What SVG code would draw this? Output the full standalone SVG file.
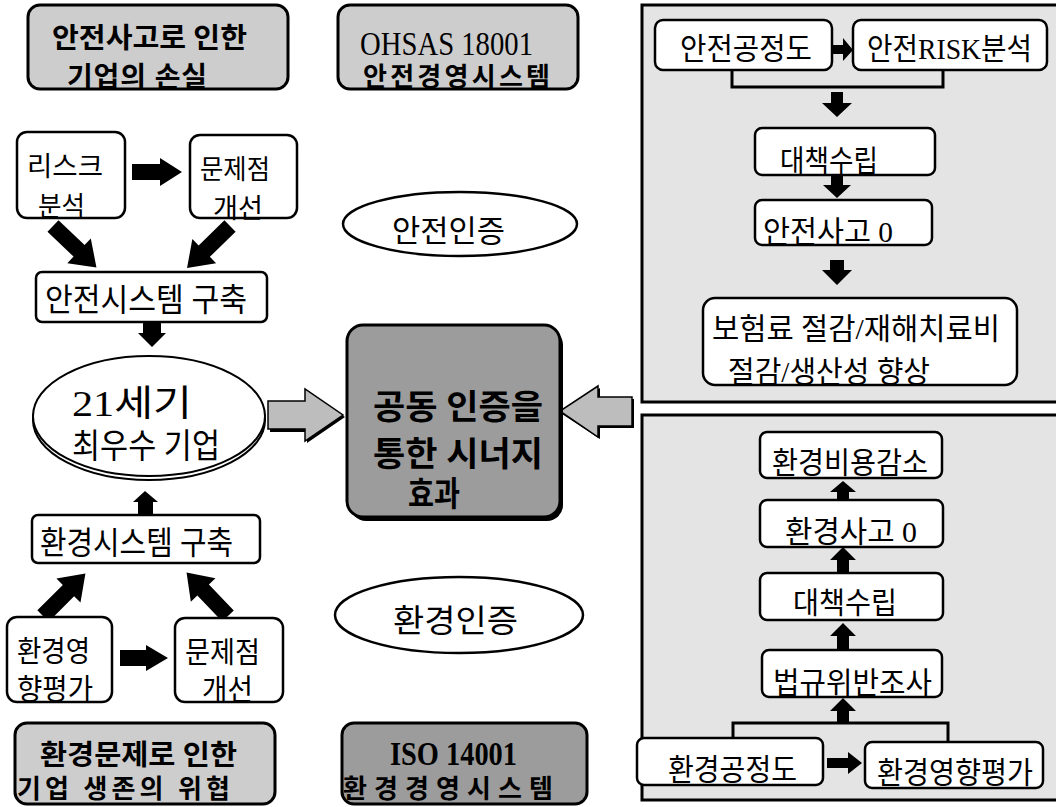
<svg xmlns="http://www.w3.org/2000/svg" width="1056" height="807" viewBox="0 0 1056 807">
<style>
text{font-family:"Liberation Serif","Noto Sans CJK KR",serif;fill:#000;dominant-baseline:central;text-anchor:start}
.b{font-weight:bold}
.box{fill:#fff;stroke:#000;stroke-width:2.5}
.gbox{fill:#cdcdcd;stroke:#000;stroke-width:3}
.dbox{fill:#9c9c9c;stroke:#000;stroke-width:3}
.panel{fill:#e4e4e4;stroke:#000;stroke-width:3}
.arr{fill:#000}
.harr{fill:#bdbdbd;stroke:#000;stroke-width:1.5}
.ln{fill:none;stroke:#000;stroke-width:3}
</style>
<defs>
<path id="diag" d="M0,-8 L36,-8 L36,-17 L60,0 L36,17 L36,8 L0,8 Z"/>
</defs>

<g id="panel-safety">
<rect class="panel" x="642" y="5" width="420" height="397"/>
</g>
<g id="panel-env">
<rect class="panel" x="642" y="415" width="420" height="385"/>
</g>

<g id="connectors">
<path class="arr" d="M132,164 L160,164 L160,158 L182,172 L160,186 L160,180 L132,180 Z"/>
<use href="#diag" class="arr" transform="translate(53,226) rotate(43.6)"/>
<use href="#diag" class="arr" transform="translate(230,226) rotate(135.7)"/>
<path class="arr" d="M143,322 L161,322 L161,333 L166,333 L152,347 L138,333 L143,333 Z"/>
<path class="arr" d="M138,515 L153,515 L153,502 L158,502 L145,491 L133,502 L138,502 Z"/>
<use href="#diag" class="arr" transform="translate(43,616) rotate(-45)"/>
<use href="#diag" class="arr" transform="translate(228,616) rotate(-133.7)"/>
<path class="arr" d="M120,650 L146,650 L146,645 L168,658 L146,671 L146,666 L120,666 Z"/>
<path d="M270,404 L307,404 L307,392 L345,417 L307,443 L307,432 L270,432 Z" fill="#000"/>
<path class="harr" d="M268,401 L305,401 L305,389 L343,415 L305,441 L305,429 L268,429 Z"/>
<path d="M634,399 L600,399 L600,388 L562,414 L600,439 L600,428 L634,428 Z" fill="#000"/>
<path class="harr" d="M632,397 L598,397 L598,386 L560,411 L598,437 L598,426 L632,426 Z"/>
<path class="arr" d="M831,45 L843,45 L843,38 L853,50 L843,61 L843,54 L831,54 Z"/>
<path class="ln" d="M732,70 V87 H943 V70"/>
<path class="arr" d="M831,92 L843,92 L843,103 L852,103 L837,117 L822,103 L831,103 Z"/>
<path class="arr" d="M831,175 L843,175 L843,185 L851,185 L837,198 L823,185 L831,185 Z"/>
<path class="arr" d="M830,260 L844,260 L844,270 L852,270 L837,285 L822,270 L830,270 Z"/>
<path class="arr" d="M837,500 L849,500 L849,492 L856,492 L843,481 L830,492 L837,492 Z"/>
<path class="arr" d="M837,573 L849,573 L849,560 L856,560 L843,547 L830,560 L837,560 Z"/>
<path class="arr" d="M837,650 L849,650 L849,636 L856,636 L843,623 L830,636 L837,636 Z"/>
<path class="arr" d="M837,723 L849,723 L849,711 L856,711 L843,698 L830,711 L837,711 Z"/>
<path class="ln" d="M733,738 V723 H948 V742"/>
<path class="arr" d="M827,758 L848,758 L848,752 L862,763 L848,774 L848,768 L827,768 Z"/>
</g>

<g id="loss-safety">
<rect class="gbox" x="28" y="5" width="260" height="84" rx="12"/>
<text class="b" x="52" y="38" font-size="28" textLength="195" lengthAdjust="spacingAndGlyphs">안전사고로 인한</text>
<text class="b" x="67" y="77" font-size="28" textLength="140" lengthAdjust="spacing">기업의 손실</text>
</g>
<g id="ohsas">
<rect class="gbox" x="338" y="5" width="240" height="84" rx="12"/>
<text x="360" y="43" font-size="34" textLength="173" lengthAdjust="spacingAndGlyphs">OHSAS 18001</text>
<text class="b" x="363" y="77" font-size="26" textLength="187" lengthAdjust="spacing">안전경영시스템</text>
</g>
<g id="risk">
<rect class="box" x="17" y="132" width="108" height="86" rx="10"/>
<text x="27" y="167" font-size="27" textLength="76" lengthAdjust="spacingAndGlyphs">리스크</text>
<text x="38" y="207" font-size="27" textLength="47" lengthAdjust="spacingAndGlyphs">분석</text>
</g>
<g id="improve-safety">
<rect class="box" x="190" y="135" width="107" height="83" rx="10"/>
<text x="200" y="170" font-size="27" textLength="70" lengthAdjust="spacingAndGlyphs">문제점</text>
<text x="213" y="209" font-size="27" textLength="50" lengthAdjust="spacingAndGlyphs">개선</text>
</g>
<g id="safety-system">
<rect class="box" x="36" y="272" width="231" height="50" rx="6"/>
<text x="45" y="300" font-size="32" textLength="202" lengthAdjust="spacingAndGlyphs">안전시스템 구축</text>
</g>
<g id="company">
<ellipse cx="149" cy="420" rx="116" ry="60" fill="#fff" stroke="#000" stroke-width="2"/>
<ellipse cx="149" cy="416" rx="116" ry="60" fill="#fff" stroke="#000" stroke-width="2"/>
<text x="72" y="404" font-size="36" textLength="120" lengthAdjust="spacingAndGlyphs">21세기</text>
<text x="72" y="446" font-size="34" textLength="148" lengthAdjust="spacingAndGlyphs">최우수 기업</text>
</g>
<g id="env-system">
<rect class="box" x="32" y="515" width="228" height="48" rx="6"/>
<text x="40" y="543" font-size="32" textLength="193" lengthAdjust="spacingAndGlyphs">환경시스템 구축</text>
</g>
<g id="env-assess">
<rect class="box" x="7" y="617" width="105" height="85" rx="10"/>
<text x="17" y="652" font-size="29" textLength="73" lengthAdjust="spacingAndGlyphs">환경영</text>
<text x="17" y="690" font-size="29" textLength="76" lengthAdjust="spacingAndGlyphs">향평가</text>
</g>
<g id="improve-env">
<rect class="box" x="175" y="618" width="108" height="84" rx="10"/>
<text x="185" y="653" font-size="29" textLength="75" lengthAdjust="spacingAndGlyphs">문제점</text>
<text x="202" y="690" font-size="29" textLength="51" lengthAdjust="spacingAndGlyphs">개선</text>
</g>
<g id="risk-env">
<rect class="gbox" x="15" y="723" width="260" height="81" rx="12"/>
<text class="b" x="40" y="755" font-size="28" textLength="197" lengthAdjust="spacingAndGlyphs">환경문제로 인한</text>
<text class="b" x="17" y="789" font-size="26" textLength="213" lengthAdjust="spacing">기업 생존의 위협</text>
</g>
<g id="cert-safety">
<ellipse cx="460" cy="224" rx="117" ry="32" fill="#fff" stroke="#000" stroke-width="2.5"/>
<text x="392" y="231" font-size="31" textLength="113" lengthAdjust="spacingAndGlyphs">안전인증</text>
</g>
<g id="cert-env">
<ellipse cx="459" cy="615" rx="124" ry="38" fill="#fff" stroke="#000" stroke-width="2.5"/>
<text x="393" y="621" font-size="32" textLength="125" lengthAdjust="spacingAndGlyphs">환경인증</text>
</g>
<g id="iso">
<rect class="dbox" x="342" y="723" width="245" height="81" rx="12"/>
<text class="b" x="390" y="753" font-size="34" textLength="127" lengthAdjust="spacingAndGlyphs">ISO 14001</text>
<text class="b" x="343" y="789" font-size="26" textLength="210" lengthAdjust="spacing">환경경영시스템</text>
</g>
<g id="synergy">
<rect x="350" y="329" width="213" height="192" rx="16" fill="#000"/>
<rect class="dbox" x="347" y="325" width="213" height="192" rx="16"/>
<text class="b" x="373" y="407" font-size="34" textLength="170" lengthAdjust="spacingAndGlyphs">공동 인증을</text>
<text class="b" x="373" y="454" font-size="34" textLength="170" lengthAdjust="spacingAndGlyphs">통한 시너지</text>
<text class="b" x="408" y="494" font-size="34" textLength="52" lengthAdjust="spacingAndGlyphs">효과</text>
</g>

<g id="s-process">
<rect class="box" x="655" y="20" width="177" height="50" rx="8"/>
<text x="680" y="48" font-size="30" textLength="132" lengthAdjust="spacingAndGlyphs">안전공정도</text>
</g>
<g id="s-risk">
<rect class="box" x="853" y="20" width="194" height="50" rx="8"/>
<text x="867" y="48" font-size="30" textLength="165" lengthAdjust="spacingAndGlyphs">안전RISK분석</text>
</g>
<g id="s-measure">
<rect class="box" x="755" y="128" width="180" height="47" rx="7"/>
<text x="780" y="160" font-size="30" textLength="98" lengthAdjust="spacingAndGlyphs">대책수립</text>
</g>
<g id="s-zero">
<rect class="box" x="755" y="200" width="177" height="45" rx="7"/>
<text x="763" y="231" font-size="30" textLength="130" lengthAdjust="spacingAndGlyphs">안전사고 0</text>
</g>
<g id="s-result">
<rect class="box" x="703" y="298" width="314" height="87" rx="12"/>
<text x="712" y="328" font-size="30" textLength="288" lengthAdjust="spacingAndGlyphs">보험료 절감/재해치료비</text>
<text x="728" y="371" font-size="30" textLength="202" lengthAdjust="spacingAndGlyphs">절감/생산성 향상</text>
</g>

<g id="e-cost">
<rect class="box" x="760" y="432" width="182" height="46" rx="7"/>
<text x="772" y="462" font-size="30" textLength="156" lengthAdjust="spacingAndGlyphs">환경비용감소</text>
</g>
<g id="e-zero">
<rect class="box" x="760" y="500" width="183" height="47" rx="7"/>
<text x="785" y="531" font-size="30" textLength="132" lengthAdjust="spacingAndGlyphs">환경사고 0</text>
</g>
<g id="e-measure">
<rect class="box" x="760" y="573" width="183" height="47" rx="7"/>
<text x="793" y="602" font-size="30" textLength="104" lengthAdjust="spacingAndGlyphs">대책수립</text>
</g>
<g id="e-law">
<rect class="box" x="762" y="650" width="180" height="47" rx="7"/>
<text x="773" y="682" font-size="30" textLength="159" lengthAdjust="spacingAndGlyphs">법규위반조사</text>
</g>
<g id="e-process">
<rect class="box" x="637" y="738" width="186" height="47" rx="7"/>
<text x="668" y="769" font-size="30" textLength="129" lengthAdjust="spacingAndGlyphs">환경공정도</text>
</g>
<g id="e-assess">
<rect class="box" x="865" y="742" width="178" height="46" rx="7"/>
<text x="877" y="772" font-size="30" textLength="156" lengthAdjust="spacingAndGlyphs">환경영향평가</text>
</g>
</svg>
